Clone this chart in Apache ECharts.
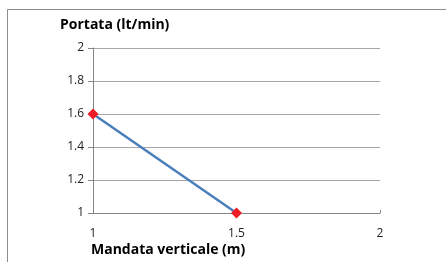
<!DOCTYPE html>
<html><head><meta charset="utf-8">
<script src="https://cdn.jsdelivr.net/npm/echarts@6/dist/echarts.min.js"></script>
<style>html,body{margin:0;padding:0;background:#fff}#c{width:446px;height:262px}</style>
</head><body><div id="c"></div>
<script>
var xValues = [1, 1.5];
var yValues = [1.6, 1.0];
var xTicks = [1, 1.5, 2];
var yTicks = [1, 1.2, 1.4, 1.6, 1.8, 2];
var yTitle = 'Portata (lt/min)';
var xTitle = 'Mandata verticale (m)';

var chart = echarts.init(document.getElementById('c'), null, {renderer: 'canvas'});
var font = '"Open Sans", sans-serif';
chart.setOption({
  animation: false,
  backgroundColor: '#fff',
  graphic: [
    {type: 'polyline', shape: {points: [[7.5, 262], [7.5, 9.5], [446, 9.5]]}, style: {stroke: '#8c8c8c', lineWidth: 1, fill: null}, silent: true},
    {type: 'text', left: 60, top: 18, style: {text: yTitle, font: 'bold 14px ' + font, fill: '#000'}},
    {type: 'text', left: 91, top: 243, style: {text: xTitle, font: 'bold 14px ' + font, fill: '#000'}}
  ],
  grid: {left: 93, right: 66, top: 48, bottom: 49, containLabel: false},
  xAxis: {
    type: 'value', min: xTicks[0], max: xTicks[xTicks.length - 1], interval: 0.5,
    axisLine: {lineStyle: {color: '#868686', width: 1}},
    axisTick: {show: true, inside: true, length: 3, lineStyle: {color: '#868686'}},
    splitLine: {show: false},
    axisLabel: {color: '#222', fontFamily: font, fontSize: 12, margin: 15}
  },
  yAxis: {
    type: 'value', min: yTicks[0], max: yTicks[yTicks.length - 1], interval: 0.2,
    axisLine: {show: true, lineStyle: {color: '#868686', width: 1}},
    axisTick: {show: true, length: 5, lineStyle: {color: '#868686'}},
    splitLine: {show: true, lineStyle: {color: '#a6a6a6', width: 1}},
    axisLabel: {color: '#222', fontFamily: font, fontSize: 12, margin: 9,
      formatter: function (v) { return String(Math.round(v * 10) / 10); }}
  },
  series: [{
    type: 'line',
    data: xValues.map(function (x, i) { return [x, yValues[i]]; }),
    lineStyle: {color: '#4a7ebb', width: 2.5},
    symbol: 'diamond', symbolSize: 11,
    itemStyle: {color: '#ee1c25', borderWidth: 0},
    z: 5
  }]
});
</script></body></html>
